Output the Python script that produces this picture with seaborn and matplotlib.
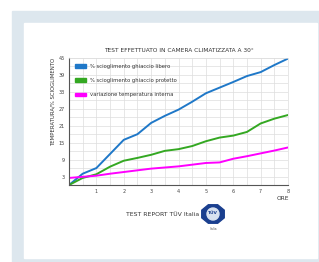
import numpy as np
import pandas as pd
import matplotlib
matplotlib.use("Agg")
import matplotlib.pyplot as plt
import matplotlib.patches as mpatches
import seaborn as sns

# data
ore = [0, 0.5, 1, 1.5, 2, 2.5, 3, 3.5, 4, 4.5, 5, 5.5, 6, 6.5, 7, 7.5, 8]
libero = [0, 4, 6, 11, 16, 18, 22, 24.5, 26.7, 29.5, 32.5, 34.5, 36.5, 38.6, 40, 42.5, 44.8]
protetto = [0, 2.5, 3.8, 6.5, 8.6, 9.6, 10.7, 12.1, 12.7, 13.8, 15.5, 16.8, 17.5, 18.8, 21.8, 23.5, 24.8]
temperatura = [2.5, 2.9, 3.3, 4, 4.6, 5.2, 5.8, 6.2, 6.6, 7.2, 7.8, 8, 9.3, 10.2, 11.2, 12.2, 13.3]
series = ['% scioglimento ghiaccio libero', '% scioglimento ghiaccio protetto',
          'variazione temperatura interna']
colori = ['#1f78c8', '#34a822', '#ff00ff']
yticks = [3, 9, 15, 21, 27, 33, 39, 45]
xticks = [1, 2, 3, 4, 5, 6, 7, 8]

df = pd.DataFrame({'ore': ore * 3,
                   'valore': libero + protetto + temperatura,
                   'serie': [series[0]] * len(ore) + [series[1]] * len(ore) + [series[2]] * len(ore)})

sns.set_style('white')
fig = plt.figure(figsize=(3.19, 2.62), dpi=100)

# background frame
fig.patches.append(mpatches.Rectangle((12 / 319, 0), 1, 1 - 11 / 262, transform=fig.transFigure,
                                      color='#dde7ee', zorder=-2))
fig.patches.append(mpatches.Rectangle((24 / 319, 4 / 262), 293 / 319, 235 / 262,
                                      transform=fig.transFigure, color='white', zorder=-1))

ax = fig.add_axes([69 / 319, 77 / 262, 219 / 319, 127 / 262])
ax.set_facecolor('white')
sns.lineplot(data=df, x='ore', y='valore', hue='serie', palette=colori, linewidth=1.4,
             legend=False, ax=ax)

ax.set_xlim(0, 8)
ax.set_ylim(0, 45)
ax.set_xticks(xticks)
ax.set_yticks(yticks)
ax.set_xticks(np.arange(0, 8.01, 0.5), minor=True)
ax.set_yticks(np.arange(0, 45.01, 3), minor=True)
ax.grid(which='both', color='#dddddd', linewidth=0.5)
ax.tick_params(labelsize=3.5, length=0, pad=3, colors='#444444')
ax.set_xlabel('')
ax.set_ylabel('')
for s in ['top', 'right']:
    ax.spines[s].set_color('#dddddd')
    ax.spines[s].set_linewidth(0.5)
for s in ['left', 'bottom']:
    ax.spines[s].set_color('#555555')
    ax.spines[s].set_linewidth(0.8)

handles = [mpatches.Patch(color=c) for c in colori]
ax.legend(handles, series, loc='upper left', frameon=False, fontsize=3.8,
          handlelength=2.2, handleheight=0.7, labelspacing=1.75, borderaxespad=0.7,
          handletextpad=0.7, labelcolor='#333333')

fig.text(179 / 319, 1 - 51 / 262, 'TEST EFFETTUATO IN CAMERA CLIMATIZZATA A 30°',
         ha='center', va='center', fontsize=4.2, color='#333333')
fig.text(53 / 319, 1 - 102 / 262, 'TEMPERATURA/% SCIOGLIMENTO', rotation=90,
         ha='center', va='center', fontsize=3.9, color='#333333')
fig.text(283 / 319, 1 - 199 / 262, 'ORE', ha='center', va='center', fontsize=4.2, color='#333333')
fig.text(163 / 319, 1 - 215 / 262, 'TEST REPORT TÜV Italia', ha='center', va='center',
         fontsize=4.4, color='#333333')

# logo
fig.patches.append(mpatches.RegularPolygon((213 / 319, 1 - 214 / 262), 8, radius=10 / 262,
                                           transform=fig.transFigure, color='#1a3f8f',
                                           orientation=np.pi / 8))
fig.patches.append(mpatches.Ellipse((213 / 319, 1 - 214 / 262), 12 / 319, 12 / 262,
                                    transform=fig.transFigure, color='#d8e2f0'))
fig.text(213 / 319, 1 - 213 / 262, 'TÜV', ha='center', va='center', fontsize=3.2,
         color='#1a3f8f', weight='bold')
fig.text(213 / 319, 1 - 229 / 262, 'Italia', ha='center', va='center', fontsize=2.2,
         color='#555555')

fig.savefig('out.png', dpi=100)
